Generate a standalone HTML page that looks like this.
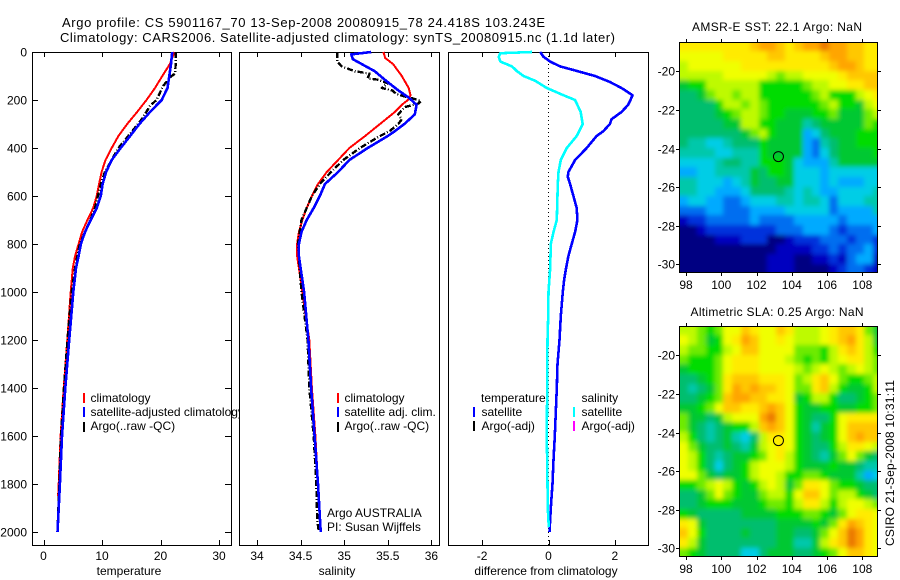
<!DOCTYPE html>
<html lang="en">
<head>
<meta charset="utf-8">
<title>Argo profile chart</title>
<style>
html,body{margin:0;padding:0;background:#fff;}
svg{display:block;font-family:"Liberation Sans",sans-serif;font-size:12px;fill:#000;}
.crisp{shape-rendering:crispEdges;}
.ln{fill:none;stroke-linejoin:round;shape-rendering:crispEdges;}
</style>
</head>
<body>
<svg id="chart" xmlns="http://www.w3.org/2000/svg" width="900" height="580" viewBox="0 0 900 580">
<defs><filter id="soften" x="-5%" y="-5%" width="110%" height="110%"><feGaussianBlur stdDeviation="2.4"/></filter></defs>
<rect width="900" height="580" fill="#fff"/>
<text x="62" y="27" font-size="13" textLength="483" lengthAdjust="spacing">Argo profile: CS 5901167_70 13-Sep-2008 20080915_78 24.418S 103.243E</text>
<text x="60" y="42" font-size="13" textLength="555" lengthAdjust="spacing">Climatology: CARS2006. Satellite-adjusted climatology: synTS_20080915.nc (1.1d later)</text>

<g id="p1">
  <rect class="crisp" x="32.5" y="52.5" width="199" height="493" fill="#fff" stroke="#000"/>
  <g id="p1marks"></g>
  <g>
    <rect class="crisp" x="83" y="393" width="2" height="10" fill="#f00"/>
    <rect class="crisp" x="83" y="407" width="2" height="10" fill="#00f"/>
    <rect class="crisp" x="83" y="422" width="2" height="10" fill="#000"/>
    <text x="90.5" y="402">climatology</text>
    <text x="90.5" y="416">satellite-adjusted climatology</text>
    <text x="90.5" y="430">Argo(..raw -QC)</text>
  </g>
  <text x="129" y="575" text-anchor="middle">temperature</text>
</g>

<g id="p2">
  <rect class="crisp" x="239.5" y="52.5" width="200" height="493" fill="#fff" stroke="#000"/>
  <g id="p2marks"></g>
  <g>
    <rect class="crisp" x="337" y="393" width="2" height="10" fill="#f00"/>
    <rect class="crisp" x="337" y="407" width="2" height="10" fill="#00f"/>
    <rect class="crisp" x="337" y="422" width="2" height="10" fill="#000"/>
    <text x="344.5" y="402">climatology</text>
    <text x="344.5" y="416">satellite adj. clim.</text>
    <text x="344.5" y="430">Argo(..raw -QC)</text>
  </g>
  <text x="327" y="517">Argo AUSTRALIA</text>
  <text x="327" y="531">PI: Susan Wijffels</text>
  <text x="337" y="575" text-anchor="middle">salinity</text>
</g>

<g id="p3">
  <rect class="crisp" x="448.5" y="52.5" width="200" height="493" fill="#fff" stroke="#000"/>
  <g id="p3marks"></g>
  <g>
    <text x="481" y="402">temperature</text>
    <rect class="crisp" x="473" y="407" width="2" height="10" fill="#00f"/>
    <text x="481.5" y="416">satellite</text>
    <rect class="crisp" x="473" y="421" width="2" height="10" fill="#000"/>
    <text x="481.5" y="430">Argo(-adj)</text>
    <text x="581.5" y="402">salinity</text>
    <rect class="crisp" x="573" y="407" width="2" height="10" fill="#0ff"/>
    <text x="581.5" y="416">satellite</text>
    <rect class="crisp" x="573" y="421" width="2" height="10" fill="#f0f"/>
    <text x="581.5" y="430">Argo(-adj)</text>
  </g>
  <text x="546" y="575" text-anchor="middle">difference from climatology</text>
</g>

<clipPath id="clipA"><rect x="679" y="42" width="199" height="231"/></clipPath>
<clipPath id="clipB"><rect x="679" y="326" width="199" height="231"/></clipPath>
<g id="m1">
  <text x="777" y="31" text-anchor="middle" textLength="170" lengthAdjust="spacing">AMSR-E SST: 22.1 Argo: NaN</text>
  <g clip-path="url(#clipA)"><g id="m1cells" filter="url(#soften)"></g></g>
  <g id="m1axes"></g>
</g>
<g id="m2">
  <text x="777" y="316" text-anchor="middle" textLength="173" lengthAdjust="spacing">Altimetric SLA: 0.25 Argo: NaN</text>
  <g clip-path="url(#clipB)"><g id="m2cells" filter="url(#soften)"></g></g>
  <g id="m2axes"></g>
</g>
<text transform="translate(894,463) rotate(-90)" text-anchor="middle" textLength="166" lengthAdjust="spacing">CSIRO 21-Sep-2008 10:31:11</text>
</svg>

<script>
// ---- profile data ----
const depthTicks = [0,200,400,600,800,1000,1200,1400,1600,1800,2000];
const tempTicks = [0,10,20,30];
const salTicks = [34,34.5,35,35.5,36];
const diffTicks = [-2,0,2];

const tempClimDepth = [0,50,100,150,200,250,300,350,400,450,500,550,600,650,700,750,800,850,900,1000,1200,1400,1600,1800,1850];
const tempClim = [22.4,21.6,20.3,19.06,17.6,16.0,14.3,12.8,11.65,10.6,9.94,9.5,9.1,8.5,7.5,6.6,6.0,5.4,5.0,4.65,4.07,3.45,2.93,2.6,2.5];
const tempSatDepth = [0,50,100,150,200,250,300,350,400,450,500,550,600,650,700,750,800,850,900,1000,1200,1400,1600,1800,1900,2000];
const tempSat = [22.0,21.8,21.5,21.2,20.2,18.2,16.4,14.8,13.2,11.65,10.7,10.1,9.8,9.1,8.06,7.1,6.4,6.0,5.55,5.1,4.4,3.73,3.16,2.8,2.6,2.4];
const tempArgoDepth = [0,50,90,100,140,200,225,280,350,400,450,500,550,600,650,700,750,800,850,900,1000,1200,1400,1600,1800,2000];
const tempArgo = [22.6,22.6,22.5,21.9,20.5,19.3,18.2,16.8,14.5,12.8,11.65,10.5,9.8,9.3,8.8,8.0,7.1,6.2,5.8,5.4,4.8,4.1,3.5,3.0,2.7,2.4];

const salClimDepth = [0,25,50,100,150,180,200,220,250,300,350,400,450,500,550,600,650,700,750,800,850,900,1000,1200,1400,1600,1800,1850];
const salClim = [35.45,35.47,35.56,35.66,35.74,35.76,35.73,35.66,35.58,35.41,35.24,35.06,34.93,34.8,34.7,34.63,34.57,34.52,34.48,34.46,34.46,34.48,34.52,34.6,34.63,34.67,34.7,34.71];
const salSatDepth = [0,10,30,50,80,120,160,190,220,260,300,330,350,400,450,500,550,600,650,700,750,800,850,900,1000,1200,1400,1600,1800,2000];
const salSat = [35.31,35.08,35.1,35.2,35.35,35.48,35.62,35.74,35.83,35.81,35.69,35.58,35.5,35.27,35.06,34.93,34.78,34.72,34.65,34.57,34.51,34.48,34.48,34.5,34.54,34.59,34.62,34.66,34.7,34.73];
const salArgoDepth = [0,40,60,80,90,110,115,130,150,160,175,185,195,205,215,230,260,280,300,330,350,400,450,500,550,600,650,700,750,800,900,1000,1200,1400,1600,1800,1950,2000];
const salArgo = [34.92,34.92,34.97,35.12,35.29,35.27,35.38,35.5,35.43,35.55,35.6,35.69,35.8,35.88,35.85,35.69,35.62,35.66,35.62,35.52,35.41,35.18,34.99,34.85,34.72,34.63,34.57,34.51,34.49,34.47,34.49,34.51,34.58,34.6,34.65,34.68,34.69,34.71];

const diffTempDepth = [0,20,40,60,75,100,125,150,180,200,220,250,280,300,330,350,400,450,500,520,550,600,650,700,750,800,850,900,950,1000,1100,1200,1300,1400,1500,1600,1700,1800,1900,2000];
const diffTemp = [-0.25,-0.15,0.05,0.35,0.75,1.4,1.85,2.2,2.53,2.47,2.4,2.2,1.9,1.85,1.65,1.45,1.15,0.8,0.6,0.58,0.65,0.75,0.85,0.87,0.8,0.7,0.6,0.53,0.47,0.43,0.37,0.33,0.27,0.25,0.22,0.19,0.15,0.12,0.07,0.03];
const diffSalDepth = [0,5,20,40,60,80,100,120,150,180,200,250,300,350,400,450,500,550,700,750,800,900,1000,1100,1200,1400,1600,1800,1900,1980];
const diffSal = [-0.5,-1.45,-1.5,-1.45,-1.1,-0.95,-0.75,-0.4,-0.05,0.45,0.8,0.97,1.03,0.85,0.55,0.37,0.3,0.28,0.25,0.15,0.07,0.05,0,-0.01,-0.03,-0.04,-0.05,-0.03,-0.02,0.01];

// ---- map data: colour-scale level per 0.5 degree cell, north to south ----
const lonTicks = [98,100,102,104,106,108];
const latTicks = [-20,-22,-24,-26,-28,-30];
const floatLon = 103.243;
const floatLat = -24.418;
const sstLevels = [
[13,13,13,13,13,13,13,13,14,15,15,14,13,14,15,15,16,15,15,14,14,13,13],
[12,12,12,12,12,13,13,13,13,13,14,14,13,13,13,13,14,15,15,14,14,13,13],
[11,12,12,12,12,12,12,13,13,13,13,13,13,13,13,13,13,14,15,15,14,13,13],
[11,11,11,11,11,12,12,12,12,12,11,10,11,11,12,12,12,12,13,14,14,14,14],
[8,9,9,11,11,11,11,11,11,9,9,9,9,9,10,11,11,12,12,13,13,14,14],
[7,7,8,10,11,11,10,11,11,9,9,9,9,9,9,10,11,9,9,9,11,12,13],
[7,7,7,7,9,11,11,10,11,10,9,9,9,9,9,9,10,11,9,9,8,11,12],
[7,7,7,7,8,9,10,11,11,10,9,9,8,8,8,9,9,10,8,8,8,10,11],
[7,7,7,7,7,8,8,11,11,9,9,8,8,8,6,7,8,8,8,8,8,10,9],
[7,7,7,7,7,7,7,8,10,11,9,8,8,8,4,5,7,8,8,8,9,9,9],
[7,6,6,5,5,6,7,7,7,9,8,8,8,8,4,3,6,7,8,8,9,9,9],
[6,6,6,6,5,5,6,6,6,9,8,8,8,8,4,3,5,7,8,8,8,8,9],
[5,5,5,5,6,7,7,6,6,9,9,9,8,5,4,4,4,6,8,8,8,8,8],
[4,4,5,5,6,6,6,6,8,7,9,9,8,5,5,5,4,5,5,5,5,5,5],
[6,6,5,5,5,4,5,6,8,7,7,8,8,5,5,5,4,5,4,4,4,5,5],
[6,6,5,5,4,4,4,5,7,7,7,7,6,5,6,5,4,4,5,5,5,5,6],
[4,5,5,4,4,3,3,4,5,5,5,6,6,5,6,6,5,3,5,5,5,6,6],
[3,3,3,4,4,3,3,3,4,4,4,4,5,5,5,5,5,3,4,4,4,4,6],
[1,2,2,3,3,3,3,3,4,3,3,3,3,4,4,4,4,4,3,4,4,4,4],
[0,0,1,2,2,2,2,2,2,2,2,3,3,3,4,4,4,3,2,3,3,3,4],
[0,0,0,0,1,1,1,2,2,2,0,0,1,2,2,2,3,3,3,2,3,3,2],
[0,0,0,0,0,0,0,0,0,0,0,1,1,1,1,2,2,3,2,3,3,4,2],
[0,0,0,0,0,0,0,0,0,0,1,1,1,0,0,1,1,2,1,3,4,4,1],
[0,0,0,0,0,0,0,0,0,0,1,1,1,0,0,0,0,1,2,3,3,2,1]
];
const slaLevels = [
[11,11,10,9,10,12,12,14,13,12,12,14,13,11,11,11,12,13,14,14,13,10,8],
[12,11,10,8,9,12,13,15,14,12,12,13,12,11,11,11,12,13,14,15,13,11,8],
[11,10,10,9,9,11,12,14,14,12,12,12,12,10,10,10,9,11,13,14,13,11,9],
[10,9,9,9,10,12,13,13,13,12,12,12,11,10,9,10,9,11,12,13,13,11,10],
[8,9,9,9,10,12,13,13,13,12,12,12,12,11,10,11,12,11,10,11,12,11,10],
[7,7,8,9,10,13,14,14,14,13,13,13,12,10,11,13,14,12,10,9,9,10,11],
[7,6,7,8,10,13,15,14,15,14,14,13,12,10,10,13,14,11,9,8,8,9,11],
[7,7,8,9,10,14,15,15,14,14,13,13,12,8,9,11,11,9,7,7,8,9,10],
[8,8,9,10,12,14,14,13,13,14,15,14,12,9,8,8,9,9,8,8,9,9,10],
[10,8,8,7,8,11,12,12,12,15,16,14,12,9,8,7,7,9,12,13,13,13,13],
[10,8,7,6,7,8,9,9,11,14,15,14,12,9,8,6,8,9,12,14,14,14,14],
[11,9,7,6,7,8,6,5,7,11,13,13,12,9,8,7,8,9,12,14,15,14,14],
[12,10,8,7,7,8,7,6,8,11,12,13,12,9,8,7,7,9,11,13,13,12,11],
[12,11,9,7,6,7,8,8,9,10,12,13,11,9,8,7,6,8,10,12,10,8,7],
[12,11,9,7,5,7,8,9,11,12,12,12,11,9,8,8,8,9,8,8,7,6,6],
[12,12,10,8,7,8,8,9,11,12,12,11,9,9,10,10,9,8,8,8,6,4,5],
[9,9,10,11,12,11,9,8,9,11,12,11,8,10,13,13,12,10,9,9,8,7,7],
[7,7,8,10,12,10,9,8,8,10,11,11,9,12,14,14,12,10,11,11,9,8,7],
[7,7,8,9,9,9,8,8,8,9,10,10,9,11,13,13,11,9,11,12,12,11,10],
[9,8,7,7,7,7,7,8,8,8,8,9,9,9,10,10,9,8,10,12,13,13,12],
[13,12,8,7,7,7,7,7,7,7,7,8,8,8,8,9,8,10,13,15,14,13,12],
[14,12,9,7,7,7,7,8,7,7,7,8,8,7,7,8,10,12,14,16,15,13,12],
[13,11,8,7,7,7,7,7,7,7,7,8,8,6,6,8,11,13,14,16,15,13,12],
[10,9,8,7,7,7,7,5,5,7,8,8,8,7,7,8,9,10,12,14,14,13,12]
];

// ---- rendering ----
const NS = 'http://www.w3.org/2000/svg';
const palette = ['#000082','#0000c0','#0032dc','#006ef0','#00aaff','#00cde6','#00c8aa','#00be6e','#00c832','#00dc00','#6eeb00','#beFa00','#f0ff00','#ffeb00','#ffc800','#ffa500','#eb7800'];
const yDepth = d => 52 + 0.24 * d;
const xTemp = t => 43.5 + 5.85 * t;
const xSal = s => 257 + 87.2 * (s - 34);
const xDiff = v => 548.5 + 33.2 * v;
const xLon = lon => 686 + 17.63 * (lon - 98);
const latScale = y0 => lat => y0 + 19.3 * (-20 - lat);

function el(parent, tag, attrs, text) {
  const e = document.createElementNS(NS, tag);
  for (const k in attrs) e.setAttribute(k, attrs[k]);
  if (text !== undefined) e.textContent = text;
  parent.appendChild(e);
  return e;
}
function drawLine(parent, xs, depths, sx, color, width, dash, name) {
  const pts = xs.map((v, i) => sx(v).toFixed(1) + ',' + yDepth(depths[i]).toFixed(1)).join(' ');
  const line = el(parent, 'polyline', {class:'ln', points:pts, stroke:color, 'stroke-width':width});
  if (dash) line.setAttribute('stroke-dasharray', dash);
  
  
}
function profileTicks(parent, ticks, sx, name) {
  ticks.forEach(t => {
    const x = Math.round(sx(t)) + 0.5;
    const top = el(parent, 'path', {class:'crisp', d:`M${x} 52V57M${x} 545V540`, stroke:'#000', fill:'none'});
    
    
    const label = el(parent, 'text', {x:sx(t), y:560, 'text-anchor':'middle'}, String(t));
    
    
  });
}

const p1 = document.getElementById('p1marks');
const p2 = document.getElementById('p2marks');
const p3 = document.getElementById('p3marks');
profileTicks(p1, tempTicks, xTemp, 'temperature-axis');
profileTicks(p2, salTicks, xSal, 'salinity-axis');
profileTicks(p3, diffTicks, xDiff, 'difference-axis');

depthTicks.forEach(d => {
  const y = Math.round(yDepth(d)) + 0.5;
  const tick = el(p1, 'path', {class:'crisp', d:`M32 ${y}H38M231 ${y}H225`, stroke:'#000', fill:'none'});
  
  
  const label = el(p1, 'text', {x:27, y:y + 4, 'text-anchor':'end'}, String(d));
  
  
});

drawLine(p1, tempClim, tempClimDepth, xTemp, '#f00', 2, null, 'temperature-climatology-line');
drawLine(p1, tempArgo, tempArgoDepth, xTemp, '#000', 2.4, '6 2 1 2', 'temperature-argo-line');
drawLine(p1, tempSat, tempSatDepth, xTemp, '#00f', 2.6, null, 'temperature-satellite-line');

drawLine(p2, salClim, salClimDepth, xSal, '#f00', 2, null, 'salinity-climatology-line');
drawLine(p2, salArgo, salArgoDepth, xSal, '#000', 2.4, '6 2 1 2', 'salinity-argo-line');
drawLine(p2, salSat, salSatDepth, xSal, '#00f', 2.6, null, 'salinity-satellite-line');

const zero = el(p3, 'line', {class:'crisp', x1:xDiff(0), x2:xDiff(0), y1:52, y2:545, stroke:'#000', 'stroke-dasharray':'1 3'});


drawLine(p3, diffTemp, diffTempDepth, xDiff, '#00f', 2.6, null, 'difference-temperature-line');
drawLine(p3, diffSal, diffSalDepth, xDiff, '#0ff', 2.6, null, 'difference-salinity-line');

function drawMap(cellsId, axesId, levels, yTop, yBottom, y20, prefix) {
  const cells = document.getElementById(cellsId);
  const axes = document.getElementById(axesId);
  const yLat = latScale(y20);
  const lastRow = levels.length - 1;
  levels.forEach((row, r) => {
    const lastCol = row.length - 1;
    row.forEach((lv, c) => {
      const lon = 97.62 + 0.5 * c;
      const lat = -18.47 - 0.5 * r;
      const x0 = Math.round(xLon(lon)) - (c === 0 ? 12 : 0);
      const x1 = Math.round(xLon(lon + 0.5)) + (c === lastCol ? 12 : 0);
      const y0 = Math.round(yLat(lat)) - (r === 0 ? 12 : 0);
      const y1 = Math.round(yLat(lat - 0.5)) + (r === lastRow ? 12 : 0);
      const cell = el(cells, 'rect', {class:'crisp', x:x0, y:y0, width:x1 - x0, height:y1 - y0, fill:palette[lv]});
      
      
    });
  });
  const frame = el(axes, 'rect', {class:'crisp', x:679.5, y:yTop + 0.5, width:198, height:yBottom - yTop, fill:'none', stroke:'#000'});
  
  
  lonTicks.forEach(lon => {
    const x = Math.round(xLon(lon)) + 0.5;
    const tick = el(axes, 'path', {class:'crisp', d:`M${x} ${yTop}v-3M${x} ${yBottom + 1}v3`, stroke:'#000', fill:'none'});
    
    
    const label = el(axes, 'text', {x:xLon(lon), y:yBottom + 17, 'text-anchor':'middle'}, String(lon));
    
    
  });
  latTicks.forEach(lat => {
    const y = Math.round(yLat(lat)) + 0.5;
    const tick = el(axes, 'path', {class:'crisp', d:`M679 ${y}h-3M878 ${y}h3`, stroke:'#000', fill:'none'});
    
    
    const label = el(axes, 'text', {x:675, y:y + 4, 'text-anchor':'end'}, String(lat));
    
    
  });
  const marker = el(axes, 'circle', {cx:xLon(floatLon), cy:yLat(floatLat), r:5, fill:'none', stroke:'#000'});
  
  
}
drawMap('m1cells', 'm1axes', sstLevels, 42, 272, 71.3, 'sst-map');
drawMap('m2cells', 'm2axes', slaLevels, 326, 556, 355.3, 'sla-map');
</script>
</body>
</html>
